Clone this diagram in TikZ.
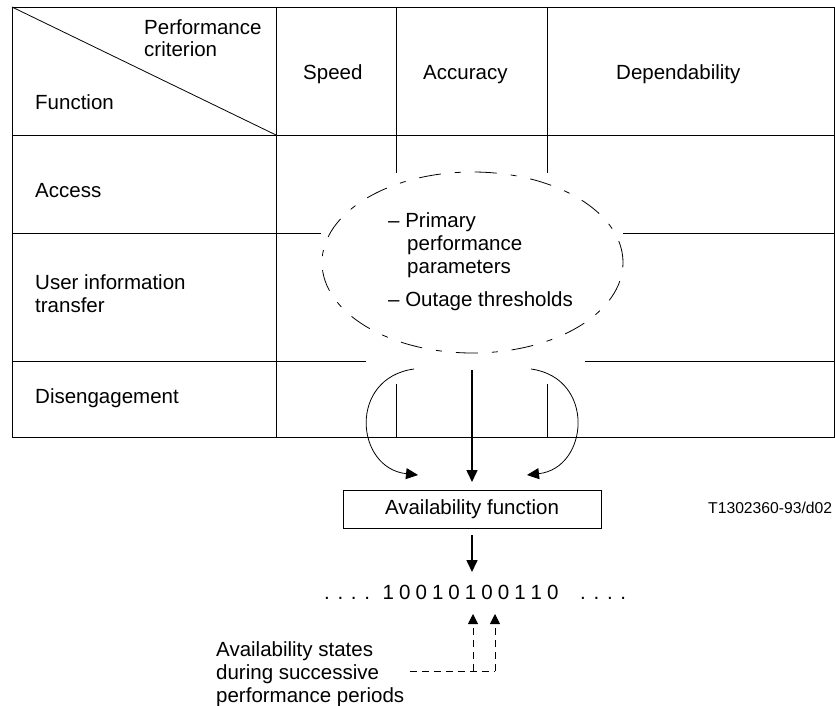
\documentclass[tikz,border=0pt]{standalone}
\usepackage{fontspec}
\setmainfont{Liberation Sans}
\usetikzlibrary{arrows.meta}
\begin{document}
\begin{tikzpicture}[x=1pt,y=-1pt,
  txt/.style={inner sep=0pt, anchor=base west, font=\fontsize{20.5}{23}\selectfont},
  small/.style={inner sep=0pt, anchor=base west, font=\fontsize{15.7}{18}\selectfont},
  tline/.style={line width=0.8pt, draw=black},
  bigarrow/.style={line width=1.6pt, -{Triangle[length=12pt,width=11pt]}},
  curvarrow/.style={line width=0.8pt, -{Triangle[length=12pt,width=11pt]}},
  dasharrow/.style={line width=0.8pt, dash pattern=on 7pt off 5pt, -{Triangle[length=10pt,width=10pt]}},
  dashline/.style={line width=0.8pt, dash pattern=on 7pt off 5pt},
  ellline/.style={line width=0.8pt, dash pattern=on 22pt off 14pt on 6pt off 14pt}]
\useasboundingbox (0,0) rectangle (835,706);

% table
\draw[tline] (12,7) rectangle (834,437);
\draw[tline] (12,7) -- (276,135);
\draw[tline] (12,135) -- (834,135);
\draw[tline] (276,7) -- (276,437);
\draw[tline] (396,7) -- (396,173);
\draw[tline] (547,7) -- (547,173);
\draw[tline] (12,233) -- (321,233);
\draw[tline] (623,233) -- (834,233);
\draw[tline] (12,361) -- (366,361);
\draw[tline] (585,361) -- (834,361);
\draw[tline] (396,384) -- (396,437);
\draw[tline] (547,384) -- (547,437);

% header texts
\node[txt] (perf) at (144,35) {Performance};
\node[txt] (crit) at (144,57) {criterion};
\node[txt] (func) at (35,110) {Function};
\node[txt] (speed) at (303,80) {Speed};
\node[txt] (accu) at (423,80) {Accuracy};
\node[txt] (depe) at (616,80) {Dependability};

% row labels
\node[txt] (acc) at (35,197) {Access};
\node[txt] (uit1) at (35,289) {User information};
\node[txt] (uit2) at (35,312) {transfer};
\node[txt] (dis) at (35,403) {Disengagement};

% ellipse
\draw[ellline] (472.5,262.5) ellipse [x radius=150.5pt, y radius=90.5pt];
\node[txt] (e1) at (388,227) {– Primary};
\node[txt] (e2) at (407,250) {performance};
\node[txt] (e3) at (407,273) {parameters};
\node[txt] (e4) at (388,306) {– Outage thresholds};

% arrows to box
\coordinate (ls) at (414,369);
\coordinate (le) at (418,475);
\coordinate (rs) at (531,369);
\coordinate (re) at (527,475);
\coordinate (cs) at (472,370);
\coordinate (ce) at (472,482);
\draw[curvarrow] (ls) .. controls (348,378) and (355,468) .. (le);
\draw[curvarrow] (rs) .. controls (596,378) and (589,468) .. (re);
\draw[bigarrow] (cs) -- (ce);

% box
\node[draw, line width=0.8pt, minimum width=258pt, minimum height=38pt, inner sep=0pt,
      font=\fontsize{20.5}{23}\selectfont] (box) at (472,509) {Availability function};
\node[small] (ref) at (708,513) {T1302360-93/d02};

\coordinate (bs) at (472,535);
\coordinate (be) at (472,572);
\draw[bigarrow] (bs) -- (be);

% bit sequence
\node[txt] (dl) at (324,599) {{\spaceskip=5.8pt\relax . . . .}};
\node[txt] (bits) at (382.5,599) {{\spaceskip=5.05pt\relax 1 0 0 1 0 1 0 0 1 1 0}};
\node[txt] (dr) at (580,599) {{\spaceskip=5.8pt\relax . . . .}};

% dashed arrows
\coordinate (t1) at (473,614);
\coordinate (t2) at (495,614);
\coordinate (c1) at (473,671);
\coordinate (c2) at (495,671);
\coordinate (hs) at (410,671);
\draw[dashline] (hs) -- (c2);
\draw[dasharrow] (c1) -- (t1);
\draw[dasharrow] (c2) -- (t2);

\node[txt] (a1) at (216,656) {Availability states};
\node[txt] (a2) at (216,679) {during successive};
\node[txt] (a3) at (216,702) {performance periods};
\end{tikzpicture}
\end{document}
